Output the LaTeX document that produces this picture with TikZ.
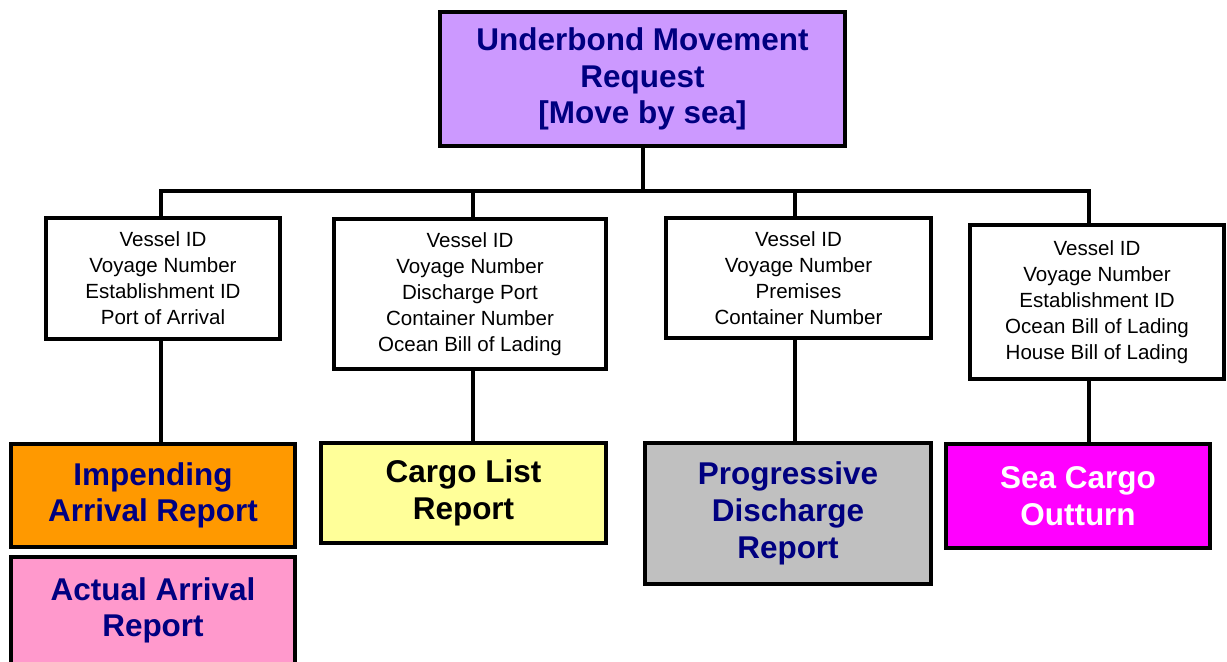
\documentclass[tikz,border=0pt]{standalone}
\usepackage{fontspec}
\setmainfont{Liberation Sans}
\usepackage{tikz}
\usetikzlibrary{positioning, calc}
\definecolor{lilac}{HTML}{CC99FF}
\definecolor{iarorange}{HTML}{FF9900}
\definecolor{aarpink}{HTML}{FF99CC}
\definecolor{clryellow}{HTML}{FFFF99}
\definecolor{pdrgrey}{HTML}{C0C0C0}
\definecolor{scomagenta}{HTML}{FF00FF}
\definecolor{navytext}{HTML}{000080}

\begin{document}
\begin{tikzpicture}[x=0.75pt, y=-0.75pt,
	box/.style={draw=black, line width=3pt, inner sep=0pt, align=center},
	keybox/.style={box, fill=white, font=\fontsize{15.4}{19.5}\selectfont},
	reportbox/.style={box, text=navytext, font=\fontsize{23.6}{27.5}\selectfont\bfseries},
	link/.style={line width=3pt}]
	
	\useasboundingbox (0,0) rectangle (1227,661);
	\clip (0,0) rectangle (1227,661);
	
	\pgfmathsetmacro{\busy}{191}
	
	%% request at the top
	\node[reportbox, fill=lilac, minimum width=303.75pt, minimum height=100.5pt] (request) at (642.5,79) {Underbond Movement\\Request\\{}[Move by sea]};
	
	%% data items
	\node[keybox, minimum width=175.5pt, minimum height=90.75pt] (keys1) at (163,278.5) {Vessel ID\\Voyage Number\\Establishment ID\\Port of Arrival};
	\node[keybox, minimum width=204pt, minimum height=112.5pt] (keys2) at (470,294) {Vessel ID\\Voyage Number\\Discharge Port\\Container Number\\Ocean Bill of Lading};
	\node[keybox, minimum width=198.75pt, minimum height=90pt] (keys3) at (798.5,278) {Vessel ID\\Voyage Number\\Premises\\Container Number};
	\node[keybox, minimum width=190.5pt, minimum height=115.5pt] (keys4) at (1097,302) {Vessel ID\\Voyage Number\\Establishment ID\\Ocean Bill of Lading\\House Bill of Lading};
	
	%% reports
	\node[reportbox, fill=iarorange, minimum width=213pt, minimum height=77.25pt] (iar) at (153,495.5) {Impending\\Arrival Report};
	\node[reportbox, fill=aarpink, minimum width=213pt, minimum height=80.25pt] (aar) at (153,610.5) {Actual Arrival\\Report};
	\node[reportbox, fill=clryellow, text=black, minimum width=213.75pt, minimum height=75pt] (clr) at (463.5,493) {Cargo List\\Report};
	\node[reportbox, fill=pdrgrey, minimum width=214.5pt, minimum height=105.75pt] (pdr) at (788,513.5) {Progressive\\Discharge\\Report};
	\node[reportbox, fill=scomagenta, text=white, minimum width=198pt, minimum height=78pt] (sco) at (1078,496) {Sea Cargo\\Outturn};
	
	%% bus
	\coordinate (j1) at (161,\busy);
	\coordinate (j2) at (473,\busy);
	\coordinate (j3) at (795,\busy);
	\coordinate (j4) at (1089,\busy);
	
	\draw[link] (request.south) -- (request.south |- j1);
	\draw[link, line cap=rect] (j1) -- (j4);
	\draw[link] (j1) -- (j1 |- keys1.north);
	\draw[link] (j2) -- (j2 |- keys2.north);
	\draw[link] (j3) -- (j3 |- keys3.north);
	\draw[link] (j4) -- (j4 |- keys4.north);
	
	\draw[link] (j1 |- keys1.south) -- (j1 |- iar.north);
	\draw[link] (j2 |- keys2.south) -- (j2 |- clr.north);
	\draw[link] (j3 |- keys3.south) -- (j3 |- pdr.north);
	\draw[link] (j4 |- keys4.south) -- (j4 |- sco.north);
\end{tikzpicture}
\end{document}
